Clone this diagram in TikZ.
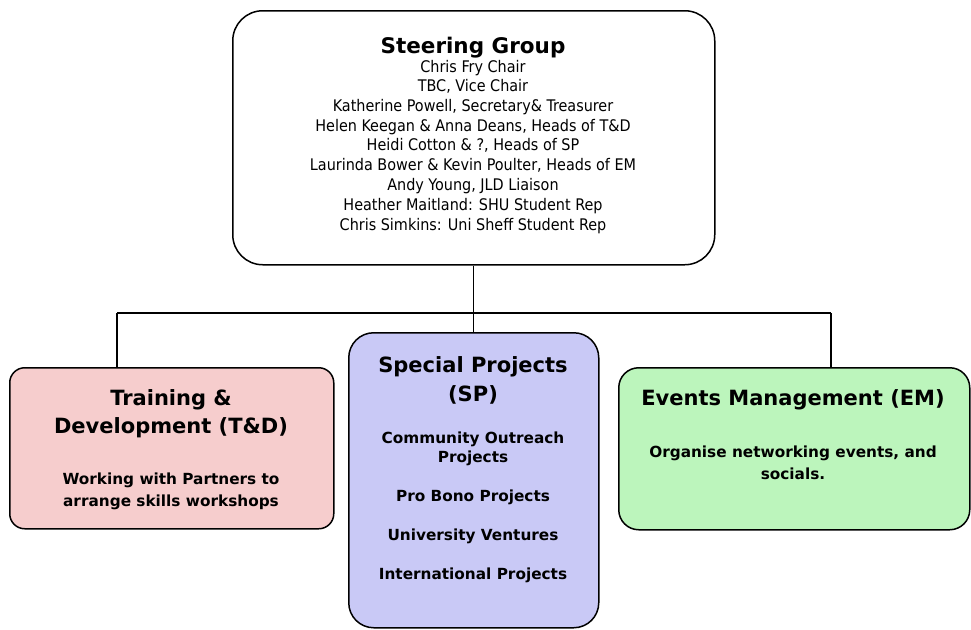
\documentclass[tikz,border=0pt]{standalone}
\usepackage{fontspec}
\setmainfont{DejaVu Sans}
\newfontfamily\cond{DejaVu Sans Condensed}
\begin{document}
\begin{tikzpicture}[x=1pt,y=-1pt,
  box/.style={draw=black,line width=1.5pt,inner sep=0pt,anchor=north west},
  conn/.style={draw=black,line width=1.3pt},
  reg/.style={font=\cond\fontsize{16}{20}\selectfont,inner sep=0pt,anchor=base},
  big/.style={font=\bfseries\fontsize{21}{24}\selectfont,inner sep=0pt,anchor=base},
  sgs/.style={font=\bfseries\fontsize{21.5}{24}\selectfont,inner sep=0pt,anchor=base},
  sub/.style={font=\bfseries\fontsize{15.3}{20}\selectfont,inner sep=0pt,anchor=base}]
\useasboundingbox (0,0) rectangle (971,629);
\definecolor{pinkf}{HTML}{F6CDCD}
\definecolor{bluef}{HTML}{C9C9F6}
\definecolor{greenf}{HTML}{BCF5BC}
% boxes
\node[box,rounded corners=30pt,minimum width=482pt,minimum height=254pt] (top) at (232,10) {};
\node[box,rounded corners=15pt,fill=pinkf,minimum width=324pt,minimum height=161pt] (td) at (9,367) {};
\node[box,rounded corners=25pt,fill=bluef,minimum width=250pt,minimum height=295pt] (sp) at (348,332) {};
\node[box,rounded corners=20pt,fill=greenf,minimum width=351pt,minimum height=162pt] (em) at (618,367) {};
% connectors
\coordinate (jl) at (117,313);
\coordinate (jr) at (831,313);
\coordinate (j) at (top.south |- jl);
\draw[conn] (top.south) -- (j);
\draw[conn] (jl) -- (jr);
\draw[conn] (jl) -- (jl |- td.north);
\draw[conn] (j) -- (j |- sp.north);
\draw[conn] (jr) -- (jr |- em.north);
% steering group text
\node[sgs] (sgt) at (473,53) {Steering Group};
\node[reg] (s1) at (473,72) {Chris Fry Chair};
\node[reg] (s2) at (473,91) {TBC, Vice Chair};
\node[reg] (s3) at (473,111) {Katherine Powell, Secretary\& Treasurer};
\node[reg] (s4) at (473,131) {Helen Keegan \& Anna Deans, Heads of T\&D};
\node[reg] (s5) at (473,150) {Heidi Cotton \& ?, Heads of SP};
\node[reg] (s6) at (473,170) {Laurinda Bower \& Kevin Poulter, Heads of EM};
\node[reg] (s7) at (473,190) {Andy Young, JLD Liaison};
\node[reg] (s8) at (473,210) {Heather Maitland: SHU Student Rep};
\node[reg] (s9) at (473,230) {Chris Simkins: Uni Sheff Student Rep};
% T&D text
\node[big] (t1) at (171,405) {Training \&};
\node[big] (t2) at (171,433) {Development (T\&D)};
\node[sub] (t3) at (171,484) {Working with Partners to};
\node[sub] (t4) at (171,506) {arrange skills workshops};
% SP text
\node[big] (p1) at (473,372) {Special Projects};
\node[big] (p2) at (473,401) {(SP)};
\node[sub] (p3) at (473,443) {Community Outreach};
\node[sub] (p4) at (473,462) {Projects};
\node[sub] (p5) at (473,501) {Pro Bono Projects};
\node[sub] (p6) at (473,540) {University Ventures};
\node[sub] (p7) at (473,579) {International Projects};
% EM text
\node[big] (e1) at (793,405) {Events Management (EM)};
\node[sub] (e2) at (793,457) {Organise networking events, and};
\node[sub] (e3) at (793,479) {socials.};
\end{tikzpicture}
\end{document}
